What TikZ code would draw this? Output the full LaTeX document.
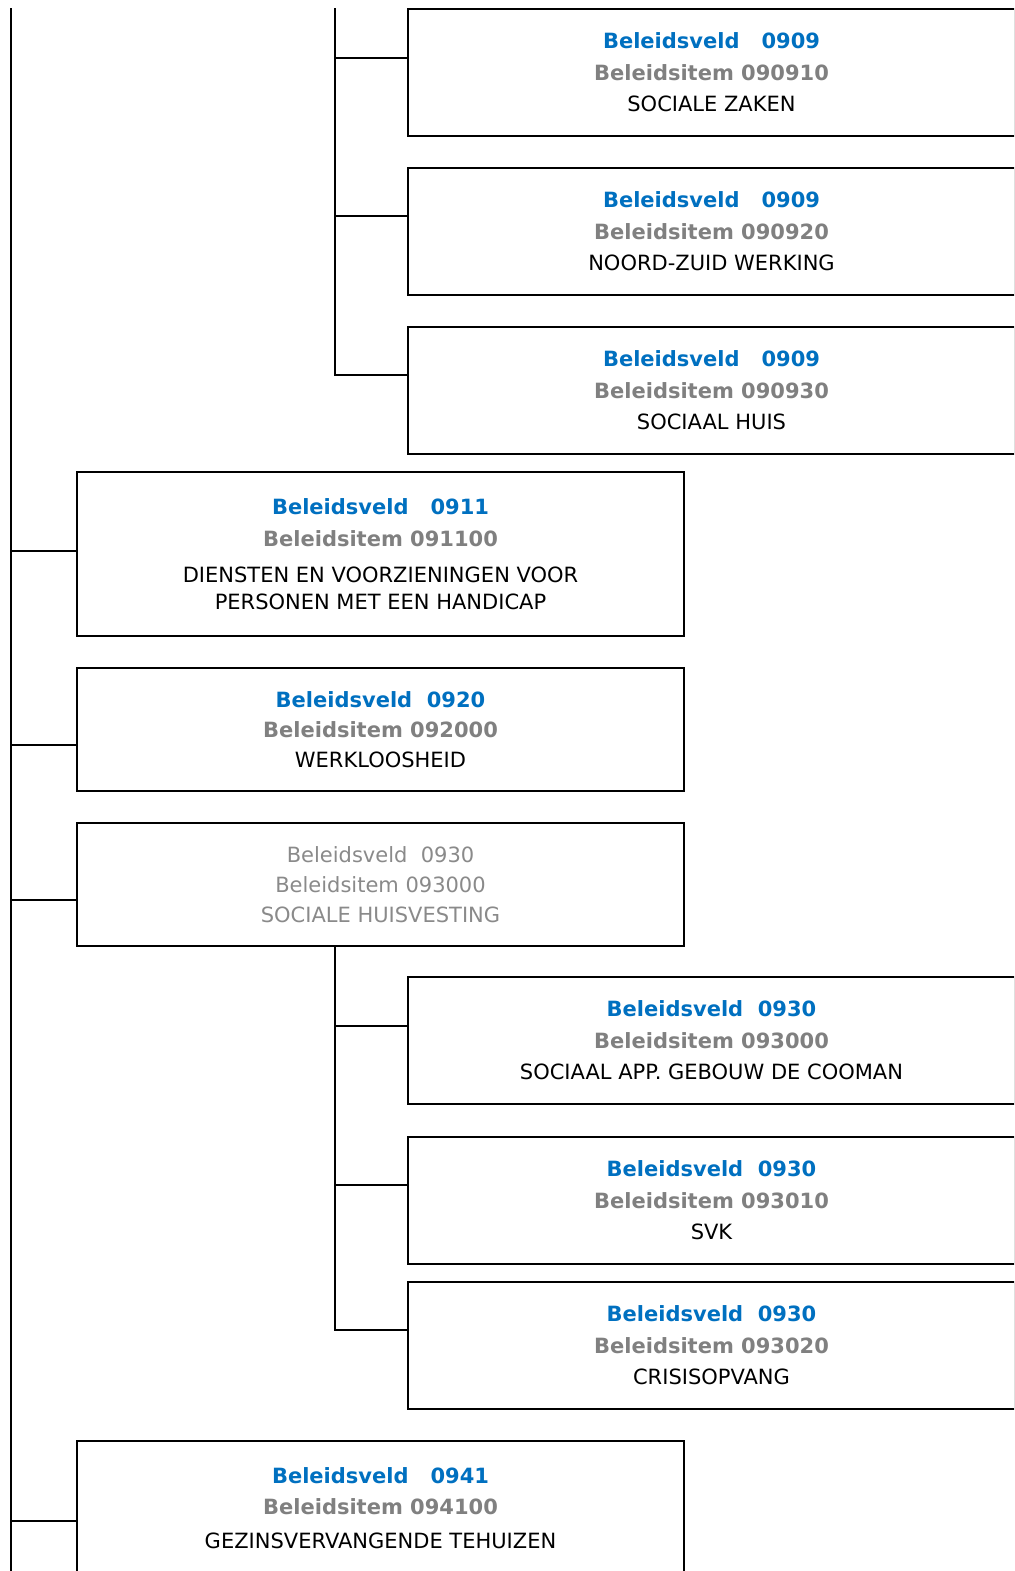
\documentclass[tikz,border=0pt]{standalone}
\usepackage{fontspec}
\setmainfont{DejaVu Sans}
\usepackage{tikz}
\usetikzlibrary{calc,positioning}
\definecolor{veldblue}{HTML}{0070C0}
\definecolor{itemgrey}{HTML}{808080}
\definecolor{fadegrey}{HTML}{8A8A8A}
\newcommand{\veldline}[1]{{\color{veldblue}\bfseries #1}}
\newcommand{\itemline}[1]{{\color{itemgrey}\bfseries #1}}
\tikzset{
    itembox/.style={
        rectangle,
        draw=black, line width=1pt,
        fill=white,
        minimum width=303.5pt,
        minimum height=63.5pt,
        inner sep=0pt, outer sep=0pt,
        anchor=north west,
        align=center,
        font={\fontsize{10.5pt}{15.75pt}\selectfont}
    },
    fadebox/.style={itembox, text=fadegrey},
    tree/.style={draw=black, line width=1pt},
}

\begin{document}
\begin{tikzpicture}[x=0.5pt, y=-0.5pt]
\useasboundingbox (0,0) rectangle (1014,1571);
\clip (0,0) rectangle (1014,1571);
% boxes under item 0909
\node[itembox] (b090910) at (408,9)
    {\veldline{Beleidsveld\ \ \ 0909}\\ \itemline{Beleidsitem 090910}\\ SOCIALE ZAKEN};
\node[itembox] (b090920) at (408,168)
    {\veldline{Beleidsveld\ \ \ 0909}\\ \itemline{Beleidsitem 090920}\\ NOORD-ZUID WERKING};
\node[itembox] (b090930) at (408,327)
    {\veldline{Beleidsveld\ \ \ 0909}\\ \itemline{Beleidsitem 090930}\\ SOCIAAL HUIS};
% main level
\node[itembox, minimum height=82pt] (b091100) at (77,472)
    {\veldline{Beleidsveld\ \ \ 0911}\\ \itemline{Beleidsitem 091100}\\[2.25pt]
     DIENSTEN EN VOORZIENINGEN VOOR\\[-2.25pt] PERSONEN MET EEN HANDICAP};
\node[itembox, minimum height=61.5pt] (b092000) at (77,668)
    {\veldline{Beleidsveld\ \ 0920}\\[-0.75pt] \itemline{Beleidsitem 092000}\\[-0.75pt] WERKLOOSHEID};
\node[fadebox, minimum height=61.5pt] (b093000) at (77,823)
    {Beleidsveld\ \ 0930\\[-0.75pt] Beleidsitem 093000\\[-0.75pt] SOCIALE HUISVESTING};
% boxes under item 0930
\node[itembox] (s093000) at (408,977)
    {\veldline{Beleidsveld\ \ 0930}\\ \itemline{Beleidsitem 093000}\\ SOCIAAL APP. GEBOUW DE COOMAN};
\node[itembox] (s093010) at (408,1137)
    {\veldline{Beleidsveld\ \ 0930}\\ \itemline{Beleidsitem 093010}\\ SVK};
\node[itembox] (s093020) at (408,1282)
    {\veldline{Beleidsveld\ \ 0930}\\ \itemline{Beleidsitem 093020}\\ CRISISOPVANG};
\node[itembox, minimum height=67pt] (b094100) at (77,1441)
    {\veldline{Beleidsveld\ \ \ 0941}\\ \itemline{Beleidsitem 094100}\\[1pt] GEZINSVERVANGENDE TEHUIZEN};

% hooks where the branches meet the boxes
\coordinate (trunk) at (11,8);
\coordinate (subtrunk) at (335,8);
\coordinate (h090910) at ($(b090910.north west)+(0,49)$);
\coordinate (h090920) at ($(b090920.north west)+(0,48)$);
\coordinate (h090930) at ($(b090930.north west)+(0,48)$);
\coordinate (h091100) at ($(b091100.north west)+(0,79)$);
\coordinate (h092000) at ($(b092000.north west)+(0,77)$);
\coordinate (h093000) at ($(b093000.north west)+(0,77)$);
\coordinate (k093000) at ($(s093000.north west)+(0,49)$);
\coordinate (k093010) at ($(s093010.north west)+(0,48)$);
\coordinate (k093020) at ($(s093020.north west)+(0,48)$);
\coordinate (h094100) at ($(b094100.north west)+(0,80)$);

\draw[tree] (trunk) -- (trunk |- 0,1571);
\draw[tree] (subtrunk) -- (subtrunk |- h090930) -- (h090930);
\draw[tree] (h090910 -| subtrunk) -- (h090910);
\draw[tree] (h090920 -| subtrunk) -- (h090920);
\draw[tree] (h091100 -| trunk) -- (h091100);
\draw[tree] (h092000 -| trunk) -- (h092000);
\draw[tree] (h093000 -| trunk) -- (h093000);
\draw[tree] (h094100 -| trunk) -- (h094100);
\draw[tree] (b093000.south -| subtrunk) -- (k093020 -| subtrunk) -- (k093020);
\draw[tree] (k093000 -| subtrunk) -- (k093000);
\draw[tree] (k093010 -| subtrunk) -- (k093010);
\end{tikzpicture}
\end{document}
